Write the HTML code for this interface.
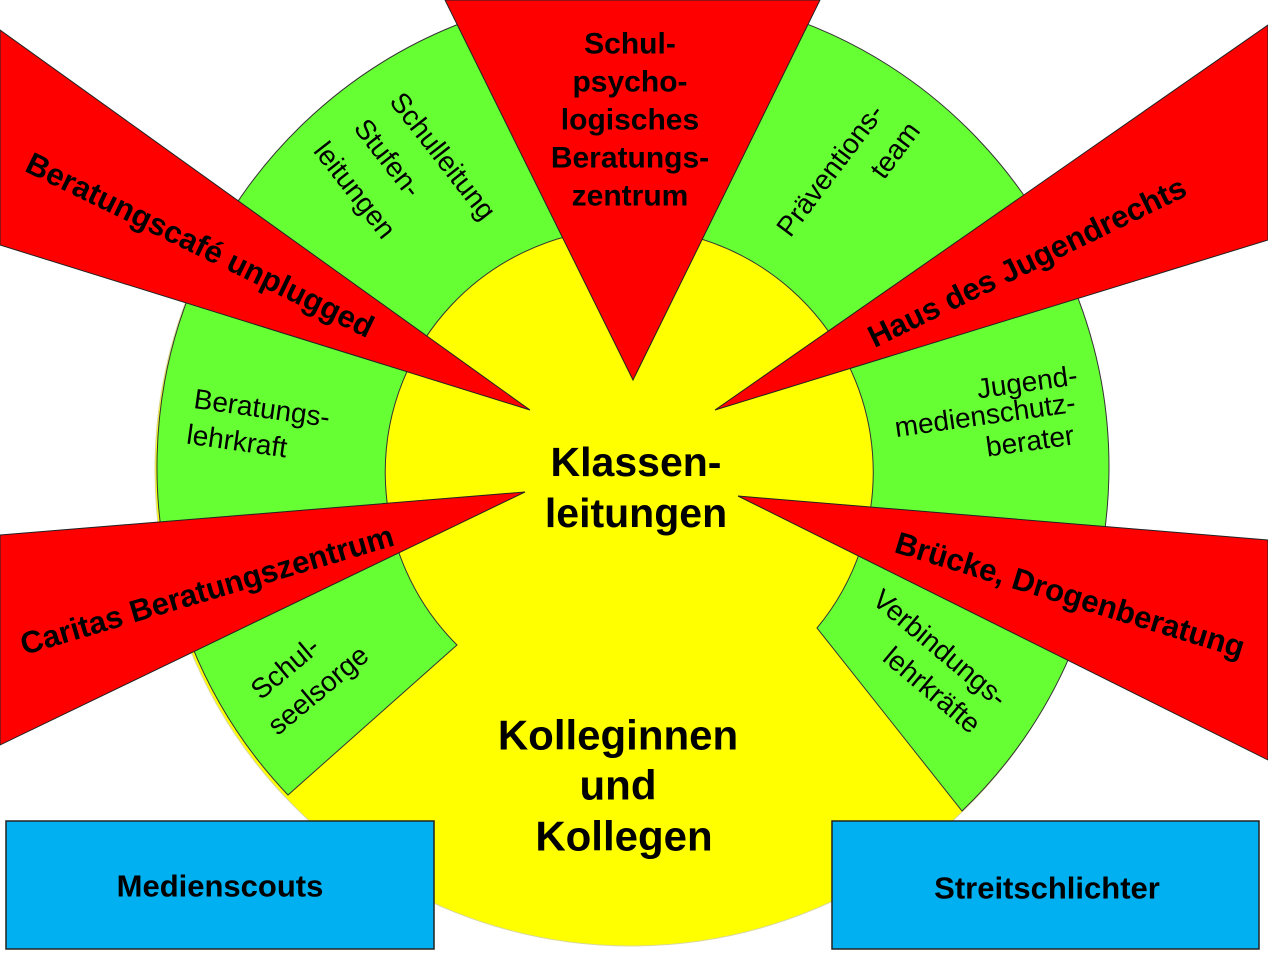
<!DOCTYPE html>
<html><head><meta charset="utf-8"><style>
html,body{margin:0;padding:0;background:#fff;}
svg{display:block;}
text{font-family:"Liberation Sans",Arial,sans-serif;fill:#000;}
.b{font-weight:bold;}
</style></head><body>
<svg width="1268" height="957" viewBox="0 0 1268 957" xmlns="http://www.w3.org/2000/svg">
<circle cx="631" cy="470" r="476" fill="#ffff00" stroke="#d8d8a0" stroke-width="1"/>
<path d="M288,795 A476,476 0 1 1 962,811 L817,628 A244,244 0 1 0 457,645 Z" fill="#66ff33" stroke="#333" stroke-width="1"/>
<polygon points="445,0 820,0 633,380" fill="#ff0000" stroke="#222" stroke-width="1"/>
<polygon points="0,30 0,245 530,410" fill="#ff0000" stroke="#222" stroke-width="1"/>
<polygon points="0,535 0,745 525,492" fill="#ff0000" stroke="#222" stroke-width="1"/>
<polygon points="1268,25 1268,240 715,410" fill="#ff0000" stroke="#222" stroke-width="1"/>
<polygon points="1268,540 1268,760 738,496" fill="#ff0000" stroke="#222" stroke-width="1"/>
<rect x="6" y="821" width="428" height="128" fill="#00b0f0" stroke="#222" stroke-width="1.5"/>
<rect x="832" y="821" width="427" height="128" fill="#00b0f0" stroke="#222" stroke-width="1.5"/>

<g class="b" font-size="30" text-anchor="middle" dominant-baseline="central">
<text class="b" x="630" y="44">Schul-</text>
<text class="b" x="630" y="82">psycho-</text>
<text class="b" x="630" y="120">logisches</text>
<text class="b" x="630" y="158">Beratungs-</text>
<text class="b" x="630" y="196">zentrum</text>
<text class="b" x="220" y="886" font-size="31">Medienscouts</text>
<text class="b" x="1047" y="888" font-size="31">Streitschlichter</text>
<text class="b" font-size="31" transform="translate(200,245) rotate(26)">Beratungscafé unplugged</text>
<text class="b" font-size="31" transform="translate(207,590) rotate(-16.5)">Caritas Beratungszentrum</text>
<text class="b" font-size="31" transform="translate(1027,262) rotate(-26)">Haus des Jugendrechts</text>
<text class="b" font-size="31" transform="translate(1070,595) rotate(17)">Brücke, Drogenberatung</text>
</g>
<g font-size="41" text-anchor="middle" dominant-baseline="central">
<text class="b" x="636" y="462">Klassen-</text>
<text class="b" x="636" y="513">leitungen</text>
<text class="b" x="618" y="735" font-size="42">Kolleginnen</text>
<text class="b" x="618" y="785" font-size="42">und</text>
<text class="b" x="624" y="836" font-size="42">Kollegen</text>
</g>
<g font-size="28" text-anchor="middle" dominant-baseline="central">
<text transform="translate(443,156) rotate(52)">Schulleitung</text>
<text transform="translate(388,158) rotate(52)">Stufen-</text>
<text transform="translate(355,190) rotate(52)">leitungen</text>
<text transform="translate(830,170) rotate(-53)">Präventions-</text>
<text transform="translate(895,150) rotate(-53)">team</text>
<text transform="translate(262,408) rotate(8)">Beratungs-</text>
<text transform="translate(237,441) rotate(8)">lehrkraft</text>
<text transform="translate(1027,382) rotate(-8)">Jugend-</text>
<text transform="translate(985,415) rotate(-8)">medienschutz-</text>
<text transform="translate(1030,441) rotate(-8)">berater</text>
<text transform="translate(285,668) rotate(-40)">Schul-</text>
<text transform="translate(318,690) rotate(-40)">seelsorge</text>
<text transform="translate(940,648) rotate(40)">Verbindungs-</text>
<text transform="translate(932,690) rotate(40)">lehrkräfte</text>
</g>
</svg>
</body></html>
